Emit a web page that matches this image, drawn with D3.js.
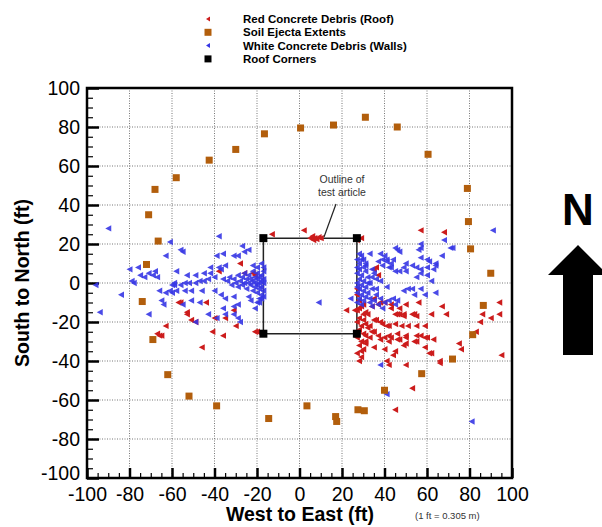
<!DOCTYPE html>
<html>
<head>
<meta charset="utf-8">
<script src="https://cdn.jsdelivr.net/npm/d3@7"></script>
<style>
body { margin: 0; background: #fff; }
svg { display: block; }
text { font-family: "Liberation Sans", Arial, sans-serif; }
</style>
</head>
<body>
<svg id="chart" width="602" height="527"></svg>
<script>
'use strict';

// values, in feet
var soilEjecta = [
	[-68,48],[-58,54],[-42.5,63],[-30,68.5],[-16.5,76.5],[0.5,79.5],[16,81],[31,85],[46,80],[60.5,66],[79,48.5],
	[-71,35],[-66.5,21.5],[-72,9.5],[-74,-9.5],[-69,-29],
	[79.5,31.5],[80.5,17.5],[90,5],[86.5,-11.5],[81.5,-26.5],[72,-39],[57.5,-46.5],
	[-62,-47],[-52,-58],[-39,-63],[-14.5,-69.5],[3.5,-63],[17,-68.5],[17.5,-71],[27.5,-65],[30.5,-65.5],[40,-55]
];

var redDebris = [
	[-57,-10],[-56,-10],[-53,-15],[-53,-16],[-51,-19],[-49,-20],[-44,-10],[-40,-18],[-35,-18],[-31,-14],
	[-63,-22],[-67,-26],[-65,-27],[-66,-27],[-46,-33],[-41,-25],[-36,-27],[-30,-22],[-21,-25],[-20,-25],
	[-28,10],[-26,5],[-22,5],[-21,4],[-38,6],
	[-13,25],[2,27],[5,23],[6,24],[7,23],[8,22.5],[9,23.5],[10,23],[6.5,22],[27,22],[29,23],
	[27,-6],[28,-9],[29,-12],[27,-14],[30,-16],[28,-18],[27,-20],[29,-22],[31,-21],[28,-24],[30,-26],
	[27,-28],[29,-30],[28,-32],[30,-34],[27,-36],[29,-38],[28,-40],[31,-27],[30,-19],[32,-23],[31,-31],
	[29,-35],[26,-14],[27,-3],[22,-14],[28,-13],[30,-11],
	[34,-12],[37,-11],[40,-10],[43,-13],[45,-16],[47,-16],[49,-16],[53,-16],[54,-16],[31,-15],[32,-16],
	[35,-19],[38,-20],[42,-22],[45,-21],[48,-22],[51,-22],[55,-22],[34,-25],[37,-27],[40,-28],[43,-28],
	[46,-29],[50,-28],[54,-30],[57,-27],[31,-30],[35,-33],[40,-34],[45,-35],[49,-32],[35,-8],[38,-10],
	[43,-11],[47,-13],[50,-11],[56,-10],[46,-16],[49,-17],[55,-17],[36,-19],[39,-21],[41,-22],[33,-22],
	[35,-25],[42,-27],[46,-26],[47,-29],[50,-27],[55,-27],[59,-28],[60,-28],[63,-29],[59,-33],[55,-30],
	[50,-31],[42,-30],[38,-29],[33,-28],[44,-37],[62,-36],[59,-22],
	[57,27],[68,26],[35,7],[36,8],[37,4],
	[94,-10],[67,-12],[69,-16],[62,-16],[86,-16],[85,-20],[90,-18],[94,-16],[83,-25],[75,-31],[76,-34],
	[95,-37],[66,-40],[66,-41],
	[50,-42],[42,-42],[41,-40],[53,-54],[45,-65],[61,-36]
];

var whiteDebris = [
	[-96,-1],[-94,-15],[-90,28],[-84,-6],[-80,7],[-79,1],[-78,0],[-76,8],[-75,4],[-73,3],[-71,5],[-69,4],
	[-68,6],[-67,3],[-71,-16],[-66,-4],[-65,-9],[-64,-11],[-63,-5],[-61,-4],[-60,-5],[-59,0],[-60,-1],
	[-58,6],[-63,14],[-61,21],[-56,17],[-55,16],[-58,-4],[-54,-4],[-51,-4],[-46,-4],[-55,-11],[-51,-9],
	[-47,-10],[-49,-20],
	[-53,4],[-49,4],[-45,5],[-42,5],[-42,8],[-38,8],[-35,9],[-40,3],[-37,7],
	[-59,-1],[-56,-1],[-54,0],[-52,0],[-49,0],[-47,1],[-45,1],[-43,2],
	[-38,24],[-39,14],[-36,15],[-29,14],[-31,14],[-27,19],[-26,16],[-24,17],[-22,9],[-20,8],
	[-40,-4],[-37,-6],[-35,-8],[-31,-7],[-43,-16],[-39,-18],[-36,-13],[-35,-16],[-31,-12],[-31,-16],
	[-29,-11],[-29,-18],[-28,-20],[-24,-7],[-23,-9],[-20,-10],[-19,-8],[-21,-13],
	[-36,2],[-34,1],[-33,3],[-32,-1],[-31,2],[-30,0],[-29,4],[-29,-2],[-28,1],[-27,3],[-27,-1],[-26,0],
	[-26,5],[-25,2],[-25,-3],[-24,0],[-24,4],[-23,-1],[-23,2],[-22,1],[-22,-4],[-22,6],[-21,0],[-21,3],
	[-21,-2],[-20,2],[-20,-1],[-20,5],[-20,-5],[-19,0],[-19,3],[-19,-3],[-18,1],[-18,-2],[-18,4],[-18,-6],
	[-17,0],[-17,6],[-17,-4],[-17,2],[-18,10],[-18,-8],[-19,-10],[-17,8],[-17,-7],
	[27,12],[28,10],[29,14],[28,7],[30,8],[27,5],[29,4],[31,6],[28,2],[30,1],[27,0],[29,-1],[31,-2],
	[28,-3],[30,-4],[27,-5],[29,-6],[31,-7],[28,-8],[30,-9],[27,-10],[29,-11],[32,-5],[33,-8],[32,3],
	[33,0],[27,8],[27,-2],[31,10],[29,12],[28,15],[30,12],
	[33,-10],[35,-9],[37,-11],[36,-6],[38,-8],[40,-10],[42,-9],[44,-8],[46,-9],[45,-11],[34,-12],[39,-13],
	[33,15],[38,15],[40,14],[41,12],[46,17],[47,16],[45,18],[37,11],[39,9],[42,8],[43,8],[45,6],[49,8],
	[50,10],[53,9],[55,8],[57,13],[55,3],[53,-3],[51,-3],[49,-4],[54,-6],[57,-3],[31,9],[34,7],[35,5],
	[36,2],[38,1],[41,-2],[32,0],[34,-3],[24,-8],[9,-10],
	[57,20],[57,18],[60,12],[61,11],[64,10],[64,9],[63,7],[60,8],[57,5],[57,7],[60,4],[68,22],[71,18],
	[67,14],[72,18],[62,1],[59,-6],[64,-5],[91,27],[56,17],[44,12],[41,11],[39,12],[43,10],[47,6],
	[50,6],[36,-3],[34,3],
	[38,-42],[41,-57],[81,-71]
];

var roofCorners = [[-17,23],[27,23],[27,-26],[-17,-26]];

var legendLabels = ['Red Concrete Debris (Roof)', 'Soil Ejecta Extents', 'White Concrete Debris (Walls)', 'Roof Corners'];
var majorTicks = d3.range(-100, 101, 20);
var minorTicks = d3.range(-100, 101, 5).filter(function(v) { return v % 20 !== 0; });

var RED = '#cc1c1c', BLUE = '#3636e4', BROWN = '#b25e0c';

var svg = d3.select('#chart');
var x = d3.scaleLinear().domain([-100, 100]).range([87, 512]);
var y = d3.scaleLinear().domain([-100, 100]).range([478, 88]);

var tri = 'M-3,0L3,-3.2L3,3.2Z';
var plain = function(d) { return String(d); };   // hyphen, not the unicode minus

// grid
var grid = svg.append('g')
	.attr('stroke', '#777')
	.attr('stroke-width', 1)
	.attr('stroke-dasharray', '1,1.5');
grid.selectAll('line.gx').data(majorTicks.slice(1, -1)).enter()
	.append('line')
		.attr('x1', function(d) { return x(d); })
		.attr('x2', function(d) { return x(d); })
		.attr('y1', y(100)).attr('y2', y(-100));
grid.selectAll('line.gy').data(majorTicks.slice(1, -1)).enter()
	.append('line')
		.attr('y1', function(d) { return y(d); })
		.attr('y2', function(d) { return y(d); })
		.attr('x1', x(-100)).attr('x2', x(100));

// axes, ticks pointing inwards
function styleAxis(g) {
	g.select('.domain').remove();
	g.selectAll('.tick line').attr('stroke', '#000').attr('stroke-width', 2.5);
	g.selectAll('.tick text').attr('font-size', '19.5px').attr('fill', '#000');
}
svg.append('g')
	.attr('transform', 'translate(' + x(-100) + ',0)')
	.call(d3.axisLeft(y).tickValues(majorTicks).tickSize(-12).tickPadding(7).tickFormat(plain))
	.call(styleAxis)
	.selectAll('.tick text')
		.filter(function(d) { return d === -100; })
		.attr('dy', '0.1em');
svg.append('g')
	.attr('transform', 'translate(' + x(-100) + ',0)')
	.call(d3.axisLeft(y).tickValues(minorTicks).tickSize(-6).tickFormat(''))
	.call(function(g) { g.select('.domain').remove(); g.selectAll('line').attr('stroke-width', 1.2); });
svg.append('g')
	.attr('transform', 'translate(0,' + y(-100) + ')')
	.call(d3.axisBottom(x).tickValues(majorTicks).tickSize(-10).tickPadding(9).tickFormat(plain))
	.call(styleAxis);
svg.append('g')
	.attr('transform', 'translate(0,' + y(-100) + ')')
	.call(d3.axisBottom(x).tickValues(minorTicks).tickSize(-5).tickFormat(''))
	.call(function(g) { g.select('.domain').remove(); g.selectAll('line').attr('stroke-width', 1.2); });

// frame
svg.append('rect')
	.attr('x', x(-100)).attr('y', y(100))
	.attr('width', x(100) - x(-100)).attr('height', y(-100) - y(100))
	.attr('fill', 'none').attr('stroke', '#000').attr('stroke-width', 2.5);

// test article outline
svg.append('path')
	.attr('d', d3.line().x(function(d) { return x(d[0]); }).y(function(d) { return y(d[1]); })
		.curve(d3.curveLinearClosed)(roofCorners))
	.attr('fill', 'none').attr('stroke', '#222').attr('stroke-width', 1.5);

// markers
svg.append('g').selectAll('path').data(redDebris).enter()
	.append('path')
		.attr('d', tri)
		.attr('transform', function(d) { return 'translate(' + x(d[0]) + ',' + y(d[1]) + ')'; })
		.attr('fill', RED);
svg.append('g').selectAll('path').data(whiteDebris).enter()
	.append('path')
		.attr('d', tri)
		.attr('transform', function(d) { return 'translate(' + x(d[0]) + ',' + y(d[1]) + ')'; })
		.attr('fill', BLUE)
		.attr('fill-opacity', 0.9);
svg.append('g').selectAll('rect').data(soilEjecta).enter()
	.append('rect')
		.attr('x', function(d) { return x(d[0]) - 3.5; })
		.attr('y', function(d) { return y(d[1]) - 3.5; })
		.attr('width', 7).attr('height', 7)
		.attr('fill', BROWN);
svg.append('g').selectAll('rect').data(roofCorners).enter()
	.append('rect')
		.attr('x', function(d) { return x(d[0]) - 4; })
		.attr('y', function(d) { return y(d[1]) - 4; })
		.attr('width', 8).attr('height', 8)
		.attr('fill', '#000');

// annotation
svg.append('line')
	.attr('x1', 336).attr('y1', 204).attr('x2', 324).attr('y2', 237)
	.attr('stroke', '#222').attr('stroke-width', 1.2);
svg.append('text').attr('x', 342).attr('y', 183).attr('text-anchor', 'middle')
	.attr('font-size', '10.5px').attr('fill', '#333').text('Outline of');
svg.append('text').attr('x', 342).attr('y', 196).attr('text-anchor', 'middle')
	.attr('font-size', '10.5px').attr('fill', '#333').text('test article');

// axis titles
svg.append('text')
	.attr('transform', 'translate(29,' + y(0) + ') rotate(-90)')
	.attr('text-anchor', 'middle')
	.attr('font-size', '19.5px').attr('font-weight', 'bold')
	.text('South to North (ft)');
svg.append('text')
	.attr('x', 300).attr('y', 521)
	.attr('text-anchor', 'middle')
	.attr('font-size', '19.5px').attr('font-weight', 'bold')
	.text('West to East (ft)');
svg.append('text')
	.attr('x', 415).attr('y', 519)
	.attr('font-family', '"DejaVu Sans", sans-serif')
	.attr('font-size', '9.5px').attr('fill', '#333')
	.text('(1 ft = 0.305 m)');

// legend
var legend = svg.append('g');
var legendRows = legend.selectAll('g').data(legendLabels).enter()
	.append('g')
		.attr('transform', function(d, i) { return 'translate(208,' + (19 + i * 13.3) + ')'; });
legendRows.append('path')
	.attr('d', function(d, i) { return (i === 0 || i === 2) ? 'M-2,0L2,-2.5L2,2.5Z' : 'M-3.5,-3.5h7v7h-7Z'; })
	.attr('fill', function(d, i) { return [RED, BROWN, BLUE, '#000'][i]; });
legendRows.append('text')
	.attr('x', 35).attr('dy', '0.35em')
	.attr('font-size', '11.5px').attr('font-weight', 'bold')
	.text(function(d) { return d; });

// north arrow
svg.append('text')
	.attr('x', 578).attr('y', 225)
	.attr('text-anchor', 'middle')
	.attr('font-size', '44px').attr('font-weight', 'bold')
	.text('N');
svg.append('path')
	.attr('d', 'M548,275L578,245L608,275L593,275L593,355L563,355L563,275Z')
	.attr('fill', '#000');
</script>
</body>
</html>
